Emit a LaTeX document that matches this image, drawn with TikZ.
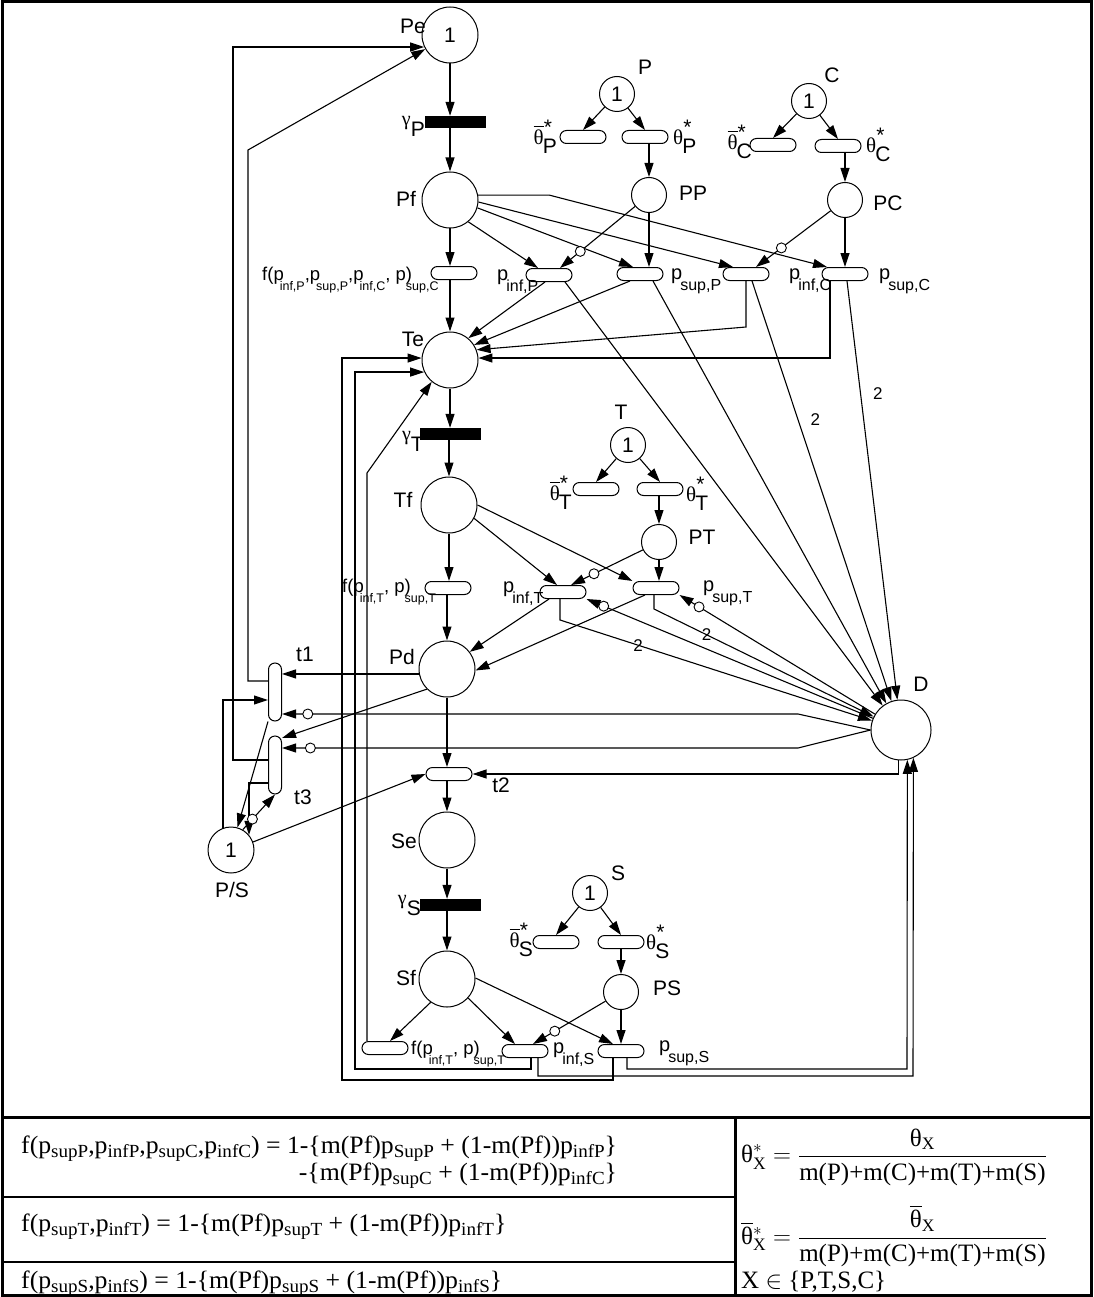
\documentclass[tikz,border=0pt]{standalone}
\usepackage{amsmath}
\usepackage{fontspec}
\setmainfont{Liberation Sans}
\newfontfamily\tms{Liberation Serif}
\usetikzlibrary{arrows.meta,calc}

% lowered subscripts as printed in the net
\newcommand{\lsub}[1]{\kern-2pt\raisebox{-11pt}{\fontsize{16}{16}\selectfont #1}}
\newcommand{\fsub}[1]{\kern-4pt\raisebox{-10pt}{\fontsize{12.5}{12.5}\selectfont #1}}
\newcommand{\tsub}[1]{\raisebox{-4.5pt}{\fontsize{18.5}{18.5}\selectfont #1}}
\newcommand{\wide}[1]{\scalebox{1.03}[1]{#1}}
\newcommand{\gam}[1]{{\tms\fontsize{20}{20}\selectfont γ}\raisebox{-11pt}{#1}}
\newcommand{\thst}[1]{{\tms θ}\rlap{\raisebox{10pt}{*}}\kern-1pt\raisebox{-9pt}{#1}}
\newcommand{\thbar}[1]{\rlap{\raisebox{18pt}{\rule{10pt}{1pt}}}\thst{#1}}

\begin{document}
\begin{tikzpicture}[x=1pt,y=-1pt,
 place/.style={circle,draw,line width=1pt,minimum size=56pt,inner sep=0pt,font=\fontsize{21}{21}\selectfont},
 mplace/.style={circle,draw,line width=1pt,minimum size=35pt,inner sep=0pt,font=\fontsize{21}{21}\selectfont},
 bar/.style={fill=black,minimum width=61pt,minimum height=12pt,inner sep=0pt},
 trans/.style={draw,line width=1pt,rounded corners=6.5pt,minimum width=46pt,minimum height=13pt,inner sep=0pt},
 vtrans/.style={draw,line width=1pt,rounded corners=6.5pt,minimum width=13pt,minimum height=58pt,inner sep=0pt},
 arc/.style={-{Triangle[length=14pt,width=9pt]},line width=1.1pt},
 inh/.style={circle,draw,fill=white,line width=0.9pt,minimum size=10pt,inner sep=0pt},
 lab/.style={inner sep=0pt,font=\fontsize{21}{21}\selectfont},
 slab/.style={inner sep=0pt,font=\fontsize{20}{20}\selectfont},
 flab/.style={inner sep=0pt,font=\fontsize{18.5}{18.5}\selectfont},
 num/.style={inner sep=0pt,font=\fontsize{17}{17}\selectfont},
 tab/.style={inner sep=0pt,font=\tms\fontsize{25}{25}\selectfont}]
\useasboundingbox (0,0) rectangle (1093,1297);

% frame and table
\draw[line width=3pt] (2,2) rectangle (1091,1295);
\draw[line width=3pt] (2,1117) -- (1091,1117);
\draw[line width=3pt] (735,1117) -- (735,1295);
\draw[line width=2.5pt] (2,1197) -- (735,1197);
\draw[line width=2.5pt] (2,1262) -- (735,1262);
\node[tab,anchor=base west] (f1) at (21,1153) {\wide{f(p\tsub{supP},p\tsub{infP},p\tsub{supC},p\tsub{infC}) = 1-\{m(Pf)p\tsub{SupP} + (1-m(Pf))p\tsub{infP}\}}};
\node[tab,anchor=base east] (f1b) at ([yshift=-27pt]f1.base east) {\wide{-\{m(Pf)p\tsub{supC} + (1-m(Pf))p\tsub{infC}\}}};
\node[tab,anchor=base west] (f2) at (21,1231) {\wide{f(p\tsub{supT},p\tsub{infT}) = 1-\{m(Pf)p\tsub{supT} + (1-m(Pf))p\tsub{infT}\}}};
\node[tab,anchor=base west] (f3) at (21,1288) {\wide{f(p\tsub{supS},p\tsub{infS}) = 1-\{m(Pf)p\tsub{supS} + (1-m(Pf))p\tsub{infS}\}}};
\node[tab,anchor=west] (th1) at (741,1157) {$\text{θ}^{*}_{\text{X}} = \dfrac{\text{θ}_{\text{X}}}{\text{m(P)+m(C)+m(T)+m(S)}}$};
\node[tab,anchor=west] (th2) at (741,1236) {$\overline{\text{θ}}{}^{*}_{\text{X}} = \dfrac{\overline{\text{θ}}_{\text{X}}}{\text{m(P)+m(C)+m(T)+m(S)}}$};
\node[tab,anchor=base west] (xin) at (741,1288) {X $\in$ \{P,T,S,C\}};

% labels under the bars
\node[lab,anchor=base east] (lgP) at (425,126) {\gam{P}};
\node[lab,anchor=base east] (lgT) at (424,440) {\gam{T}};
\node[lab,anchor=base east] (lgS) at (421,904) {\gam{S}};

% places
\node[place] (Pe) at (450,35) {1};
\node[place] (Pf) at (450,200) {};
\node[place] (Te) at (450,360) {};
\node[place] (Tf) at (449,505) {};
\node[place] (Pd) at (447,669) {};
\node[place] (Se) at (447,840) {};
\node[place] (Sf) at (447,979) {};
\node[place,minimum size=60pt] (D) at (901,730) {};
\node[place,minimum size=46pt] (PoS) at (231,850) {1};
\node[mplace] (P) at (617,94) {1};
\node[mplace] (C) at (809,101) {1};
\node[mplace] (PP) at (649,195) {};
\node[mplace] (PC) at (845,200) {};
\node[mplace] (T) at (628,445) {1};
\node[mplace] (PT) at (659,542) {};
\node[mplace] (S) at (590,893) {1};
\node[mplace] (PS) at (621,992) {};

% timed transitions
\node[bar] (gP) at (455,122) {};
\node[bar] (gT) at (450,434) {};
\node[bar] (gS) at (450,905) {};

% immediate transitions
\node[trans] (thbP) at (583,137) {};
\node[trans] (thP) at (645,137) {};
\node[trans] (thbC) at (773,145) {};
\node[trans] (thC) at (838,146) {};
\node[trans] (fP) at (454,273) {};
\node[trans] (pinfP) at (549,275) {};
\node[trans] (psupP) at (640,274) {};
\node[trans] (pinfC) at (746,274) {};
\node[trans] (psupC) at (845,274) {};
\node[trans] (thbT) at (596,489) {};
\node[trans] (thT) at (660,489) {};
\node[trans] (fT) at (448,588) {};
\node[trans] (pinfT) at (563,592) {};
\node[trans] (psupT) at (656,588) {};
\node[trans] (t2) at (449,774) {};
\node[trans] (thbS) at (556,942) {};
\node[trans] (thS) at (621,942) {};
\node[trans] (fS) at (385,1048) {};
\node[trans] (pinfS) at (525,1051) {};
\node[trans] (psupS) at (621,1051) {};
\node[vtrans] (t1) at (275,692) {};
\node[vtrans] (t3) at (275,765) {};

% labels
\node[lab] (lPe) at (413,26) {Pe};
\node[lab] (lPf) at (406,199) {Pf};
\node[lab] (lTe) at (413,339) {Te};
\node[lab] (lTf) at (403,500) {Tf};
\node[lab] (lPd) at (402,657) {Pd};
\node[lab] (lSe) at (404,841) {Se};
\node[lab] (lSf) at (406,978) {Sf};
\node[lab] (lD) at (921,684) {D};
\node[lab] (lP) at (645,67) {P};
\node[lab] (lC) at (832,75) {C};
\node[lab] (lT) at (621,412) {T};
\node[lab] (lS) at (618,873) {S};
\node[lab] (lPP) at (693,193) {PP};
\node[lab] (lPC) at (888,203) {PC};
\node[lab] (lPT) at (702,537) {PT};
\node[lab] (lPS) at (667,988) {PS};
\node[lab] (lt1) at (305,654) {t1};
\node[lab] (lt2) at (501,785) {t2};
\node[lab] (lt3) at (303,797) {t3};
\node[lab] (lPoS) at (232,890) {P/S};
\node[lab,anchor=east] (lthbP) at (557,137) {\thbar{P}};
\node[lab,anchor=west] (lthP) at (673,137) {\thst{P}};
\node[lab,anchor=east] (lthbC) at (752,142) {\thbar{C}};
\node[lab,anchor=west] (lthC) at (866,145) {\thst{C}};
\node[lab,anchor=east] (lthbT) at (572,493) {\thbar{T}};
\node[lab,anchor=west] (lthT) at (686,494) {\thst{T}};
\node[lab,anchor=east] (lthbS) at (533,940) {\thbar{S}};
\node[lab,anchor=west] (lthS) at (646,942) {\thst{S}};
\node[flab,anchor=base west] (lfP) at (262,280) {f(p\fsub{inf,P},p\fsub{sup,P},p\fsub{inf,C}, p\rlap{)}\fsub{\kern4pt sup,C}};
\node[slab,anchor=base west] (lpinfP) at (497,280) {p\lsub{inf,P}};
\node[slab,anchor=base west] (lpsupP) at (671,279) {p\lsub{sup,P}};
\node[slab,anchor=base west] (lpinfC) at (789,279) {p\lsub{inf,C}};
\node[slab,anchor=base west] (lpsupC) at (879,279) {p\lsub{sup,C}};
\node[flab,anchor=base west] (lfT) at (342,592) {f(p\fsub{inf,T}, p\rlap{)}\fsub{\kern4pt sup,T}};
\node[slab,anchor=base west] (lpinfT) at (503,592) {p\lsub{inf,T}};
\node[slab,anchor=base west] (lpsupT) at (703,591) {p\lsub{sup,T}};
\node[flab,anchor=base west] (lfS) at (411,1054) {f(p\fsub{inf,T}, p\rlap{)}\fsub{\kern4pt sup,T}};
\node[slab,anchor=base west] (lpinfS) at (553,1053) {p\lsub{inf,S}};
\node[slab,anchor=base west] (lpsupS) at (659,1051) {p\lsub{sup,S}};

% P and C part
\draw[arc] (Pe) -- (Pe |- gP.north);
\draw[arc] (Pe |- gP.south) -- (Pf);
\draw[arc] (P) -- (thbP.north);
\draw[arc] (P) -- (thP.north);
\draw[arc] (thP.south -| PP) -- (PP);
\draw[arc] (C) -- (thbC.north);
\draw[arc] (C) -- (thC.north);
\draw[arc] (thC.south -| PC) -- (PC);
\draw[arc] (Pf) -- (Pf |- fP.north);
\draw[arc] (Pf.-50) -- ([xshift=-11pt]pinfP.north);
\draw[arc] (Pf.-16) -- ([xshift=-7pt]psupP.north);
\draw[arc] (Pf.-4) -- ([xshift=-13pt]pinfC.north);
\draw[arc] (Pf.10) -- ++(71,0) -- ([xshift=-18pt]psupC.north);
\draw[arc] (PP) -- node[inh,pos=0.73] (i1) {} ([xshift=11pt]pinfP.north);
\draw[arc] (PP) -- (PP |- psupP.north);
\draw[arc] (PC) -- node[inh,pos=0.66] (i2) {} ([xshift=10pt]pinfC.north);
\draw[arc] (PC) -- (PC |- psupC.north);
\draw[arc] (fP.south -| Te) -- (Te);
\draw[arc] ([xshift=-4pt]pinfP.south) -- (Te.50);
\draw[arc] ([xshift=-10pt]psupP.south) -- (Te.32);
\draw[arc] (pinfC.south) -- ++(0,46) -- (Te.21);
\draw[arc] ([xshift=-15pt]psupC.south) |- (Te.4);
\draw[arc] ([xshift=16pt]pinfP.south) -- (D);
\draw[arc] ([xshift=13pt]psupP.south) -- (D);
\draw[arc] ([xshift=6pt]pinfC.south) -- node[num,pos=0.33,right=12pt] (n1) {2} (D);
\draw[arc] ([xshift=2pt]psupC.south) -- node[num,pos=0.27,right=12pt] (n2) {2} (D);

% T part
\draw[arc] (Te) -- (Te |- gT.north);
\draw[arc] (Tf |- gT.south) -- (Tf);
\draw[arc] (T) -- (thbT.north);
\draw[arc] (T) -- (thT.north);
\draw[arc] (thT.south -| PT) -- (PT);
\draw[arc] (Tf) -- (Tf |- fT.north);
\draw[arc] (Tf.-28) -- ([xshift=-6pt]pinfT.north);
\draw[arc] (Tf.0) -- (psupT.north west);
\draw[arc] (PT) -- node[inh,pos=0.68] (i3) {} ([xshift=8pt]pinfT.north);
\draw[arc] (PT) -- (PT |- psupT.north);
\draw[arc] (fT.south -| Pd) -- (Pd);
\draw[arc] ([xshift=-14pt]pinfT.south) -- (Pd.37);
\draw[arc] ([xshift=-11pt]psupT.south) -- (Pd.-3);
\draw[arc] ([xshift=-3pt]pinfT.south) -- ++(0,21) -- node[num,pos=0.25] (n3) {2} (D);
\draw[arc] ([xshift=-2pt]psupT.south) -- ++(0,14) -- node[num,pos=0.24] (n4) {2} (D);
\draw[arc] (D) -- node[inh,pos=0.94] (i4) {} (pinfT.south east);
\draw[arc] (D) -- node[inh,pos=0.9] (i5) {} (psupT.south east);

% t1, t2, t3 and P/S
\coordinate (k1) at (798,714);
\coordinate (k3) at (798,748);
\draw[arc] (Pd.190) -- (Pd.190 -| t1.east);
\draw[arc] (Pd.225) -- ([yshift=27pt]t3.east);
\draw[arc] (D.west) -- (k1) -- node[inh,pos=0.95] (i6) {} (k1 -| t1.east);
\draw[arc] (D.west) -- (k3) -- node[inh,pos=0.945] (i7) {} (k3 -| t3.east);
\draw[arc] (D.265) |- (t2.east);
\draw[arc] (Pd) -- (Pd |- t2.north);
\draw[arc] (Pd |- t2.south) -- (Se);
\draw[arc] (PoS.20) -- (t2.west);
\draw[arc] ([yshift=5pt]t3.west) -- ++(-35,0) |- (Pe.205);
\draw[arc] ([yshift=11pt]t1.west) -- ++(-20,0) -- ++(0,-531) -- (Pe);
\draw[arc] (PoS.110) |- ([yshift=-8pt]t1.west);
\draw[arc] ([yshift=-18pt]t3.west) -| (PoS.40);
\draw[arc] (t1.south west) -- (PoS);
\draw[arc] (PoS.60) -- node[inh,pos=0.3] (i8) {} (t3.south);

% S part
\draw[arc] (Se) -- (Se |- gS.north);
\draw[arc] (Sf |- gS.south) -- (Sf);
\draw[arc] (S) -- (thbS.north);
\draw[arc] (S) -- (thS.north);
\draw[arc] (thS.south -| PS) -- (PS);
\draw[arc] (Sf.235) -- ([xshift=5pt]fS.north);
\draw[arc] (Sf.-42) -- ([xshift=-10pt]pinfS.north);
\draw[arc] (Sf.2) -- ([xshift=-8pt]psupS.north);
\draw[arc] (PS) -- node[inh,pos=0.7] (i9) {} ([xshift=8pt]pinfS.north);
\draw[arc] (PS) -- (PS |- psupS.north);

% wires back to Te and on to D
\draw[arc] ([xshift=-18pt]fS.north) -- ++(0,-568) -- (Te.230);
\draw[arc] ([xshift=6pt]pinfS.south) |- (355,1069) |- (Te.205);
\draw[arc] ([xshift=-8pt]psupS.south) |- (342,1080) |- (Te.176);
\draw[arc] ([xshift=13pt]pinfS.south) |- (913,1076) -- (D.-66);
\draw[arc] ([xshift=6pt]psupS.south) |- (907,1069) -- (D.-78);
\end{tikzpicture}
\end{document}
